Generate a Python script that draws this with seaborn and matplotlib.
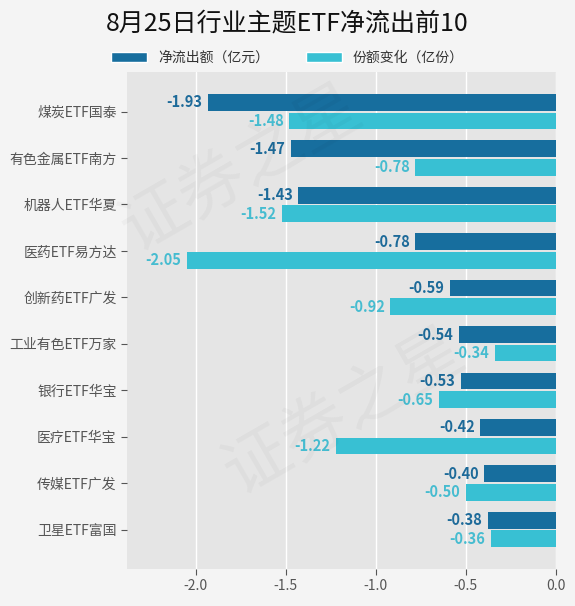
import matplotlib
matplotlib.use('Agg')
import matplotlib.pyplot as plt
from matplotlib.patches import Patch
import seaborn as sns
import pandas as pd

# data
funds = ['煤炭ETF国泰', '有色金属ETF南方', '机器人ETF华夏', '医药ETF易方达', '创新药ETF广发',
         '工业有色ETF万家', '银行ETF华宝', '医疗ETF华宝', '传媒ETF广发', '卫星ETF富国']
net_outflow = [-1.93, -1.47, -1.43, -0.78, -0.59, -0.54, -0.53, -0.42, -0.40, -0.38]
share_change = [-1.48, -0.78, -1.52, -2.05, -0.92, -0.34, -0.65, -1.22, -0.50, -0.36]
series_names = ['净流出额（亿元）', '份额变化（亿份）']
bar_colors = ['#176e9e', '#38c0d3']
label_colors = ['#1d6a99', '#46bcd0']

df = pd.DataFrame({
    'fund': funds * 2,
    'value': net_outflow + share_change,
    'series': [series_names[0]] * len(funds) + [series_names[1]] * len(funds),
})

sns.set_theme(style='darkgrid', rc={
    'axes.facecolor': '#e5e5e5',
    'figure.facecolor': '#f4f4f4',
    'grid.color': 'white',
    'grid.linewidth': 1.0,
})
plt.rcParams['font.family'] = ['Noto Sans CJK SC', 'DejaVu Sans']
plt.rcParams['axes.unicode_minus'] = False

fig = plt.figure(figsize=(5.75, 6.06), dpi=100)
ax = fig.add_axes([0.221, 0.061, 0.746, 0.82])

sns.barplot(data=df, y='fund', x='value', hue='series', orient='h',
            palette=bar_colors, width=0.8, gap=0.1, saturation=1,
            linewidth=0, ax=ax, legend=False)

for cont, col in zip(ax.containers, label_colors):
    ax.bar_label(cont, fmt='%.2f', padding=4, color=col,
                 fontsize=10.5, fontweight='bold')

ax.set_xlim(-2.38, 0)
ax.set_ylim(9.85, -0.85)
ax.set_xticks([-2.0, -1.5, -1.0, -0.5, 0.0])
ax.set_xticklabels(['-2.0', '-1.5', '-1.0', '-0.5', '0.0'])
ax.set_xlabel('')
ax.set_ylabel('')
ax.tick_params(axis='both', colors='#555555', labelsize=10, length=4,
               width=0.8, direction='out', left=True, bottom=True)
for s in ax.spines.values():
    s.set_visible(False)

# legend
handles = [Patch(facecolor=c, label=n) for c, n in zip(bar_colors, series_names)]
fig.legend(handles=handles, loc='center', bbox_to_anchor=(0.5, 0.905), ncol=2,
           frameon=False, fontsize=10, handlelength=2.6, handleheight=0.7,
           columnspacing=2.6, labelcolor='#333333')

fig.suptitle('8月25日行业主题ETF净流出前10', y=0.982, fontsize=18, color='#111111')

# faint watermark
for x, y in [(0.42, 0.72), (0.6, 0.32)]:
    fig.text(x, y, '证券之星', fontsize=48, color='#000000', alpha=0.03,
             rotation=30, ha='center', va='center')

fig.savefig('out.png', dpi=100, facecolor=fig.get_facecolor())
